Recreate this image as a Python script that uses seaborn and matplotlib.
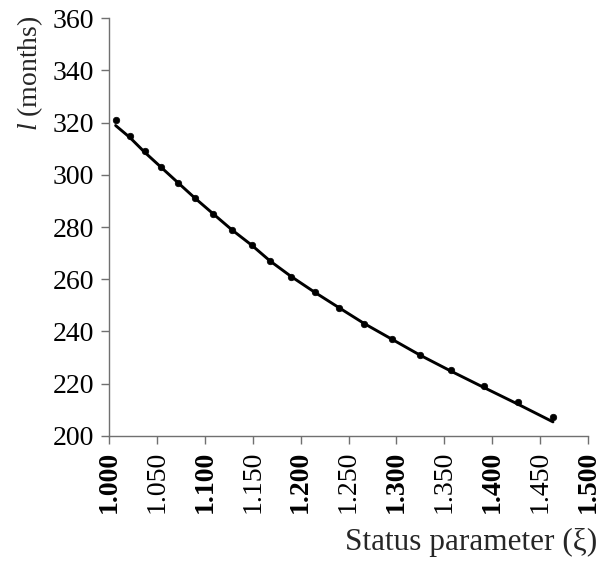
import matplotlib
matplotlib.use("Agg")
import matplotlib.pyplot as plt
import seaborn as sns
import pandas as pd

# observed points (status parameter vs. l in months)
xi_points = [1.0066, 1.0215, 1.0371, 1.0544, 1.0717, 1.0897, 1.1087, 1.1278, 1.1489, 1.1679,
             1.1901, 1.2150, 1.2403, 1.2663, 1.2957, 1.3251, 1.3573, 1.3913, 1.4269, 1.4636]
l_points = [321, 315, 309, 303, 297, 291, 285, 279, 273, 267,
            261, 255, 249, 243, 237, 231, 225, 219, 213, 207]

# fitted curve
xi_curve = xi_points
l_curve = [318.9, 314.3, 308.6, 302.8, 297.0, 291.0, 285.0, 279.0, 273.0, 267.0,
           261.0, 254.9, 249.0, 243.0, 236.9, 230.8, 224.7, 218.5, 212.1, 205.3]

x_ticks = [1.000, 1.050, 1.100, 1.150, 1.200, 1.250, 1.300, 1.350, 1.400, 1.450, 1.500]
y_ticks = [200, 220, 240, 260, 280, 300, 320, 340, 360]

sns.set_theme(style="ticks")
plt.rcParams['font.family'] = ['Liberation Serif', 'DejaVu Serif']
plt.rcParams['mathtext.fontset'] = 'custom'
plt.rcParams['mathtext.it'] = 'Liberation Serif:italic'
plt.rcParams['mathtext.rm'] = 'Liberation Serif'

pts = pd.DataFrame({'xi': xi_points, 'l': l_points})
crv = pd.DataFrame({'xi': xi_curve, 'l': l_curve})

fig = plt.figure(figsize=(6, 5.68), dpi=100)
ax = fig.add_axes([0.1822, 0.2329, 0.7975, 0.7349])

sns.lineplot(data=crv, x='xi', y='l', ax=ax, color='black', linewidth=2.1, sort=False)
sns.scatterplot(data=pts, x='xi', y='l', ax=ax, color='black', s=22, edgecolor='black', linewidth=0.5, zorder=3)

ax.set_xlim(1.0, 1.5)
ax.set_ylim(200, 360)
ax.set_xticks(x_ticks)
ax.set_yticks(y_ticks)
ax.set_xticklabels([f"{v:.3f}" for v in x_ticks], rotation=90, fontsize=20)
for i, lab in enumerate(ax.get_xticklabels()):
    if i % 2 == 0:
        lab.set_fontweight('bold')
ax.set_yticklabels([str(v) for v in y_ticks], fontsize=20)

sns.despine(ax=ax)
for sp in ['left', 'bottom']:
    ax.spines[sp].set_color('#707070')
    ax.spines[sp].set_linewidth(1.0)
ax.tick_params(axis='both', colors='#707070', length=6, width=1.0, labelcolor='black', pad=5)

ax.set_xlabel('Status parameter (ξ)', fontsize=22.5, ha='right')
ax.xaxis.set_label_coords(1.02, -0.22)
ax.set_ylabel(r'$l$ (months)', fontsize=20, loc='top')
ax.yaxis.set_label_coords(-0.135, 1.008)

fig.savefig('out.png', dpi=100)
